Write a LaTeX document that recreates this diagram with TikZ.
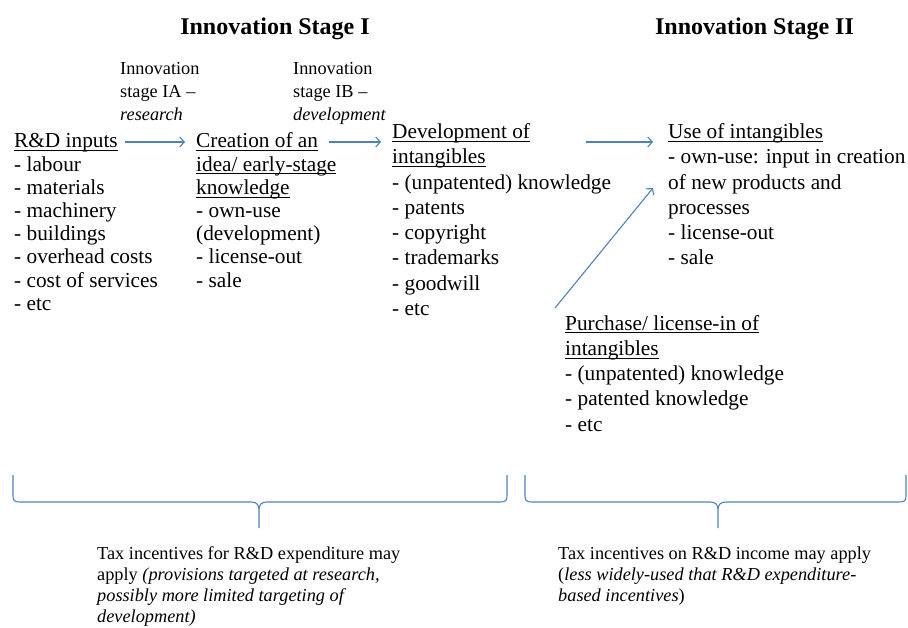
\documentclass[tikz,border=0pt]{standalone}
\usepackage{fontspec}
\setmainfont{Liberation Serif}
\newcommand{\myul}[1]{\leavevmode\setbox0=\hbox{#1}\rlap{\vrule height -2.2pt depth 3.1pt width \wd0}\box0}
\usetikzlibrary{arrows.meta}
\definecolor{arrowblue}{HTML}{4F81BD}
\tikzset{
  maintxt/.style={anchor=base west, inner sep=0pt, align=left, font=\fontsize{21.3}{23.2}\selectfont},
  maintxtb/.style={anchor=base west, inner sep=0pt, align=left, font=\fontsize{21.3}{25.3}\selectfont},
  smalltxt/.style={anchor=base west, inner sep=0pt, align=left, font=\fontsize{18.3}{22.7}\selectfont},
  bottxt/.style={anchor=base west, inner sep=0pt, align=left, font=\fontsize{18.3}{21.3}\selectfont},
  titletxt/.style={anchor=base, inner sep=0pt, font=\fontsize{24}{28}\selectfont\bfseries},
  flow/.style={draw=arrowblue, line width=1.1pt, -{Straight Barb[length=4.5pt,width=10pt]}},
  bracepath/.style={draw=arrowblue, line width=1.1pt}
}
\begin{document}
\begin{tikzpicture}[x=1pt,y=-1pt]
\useasboundingbox (0,0) rectangle (908,628);
% titles
\node[titletxt] (t1) at (275,35) {Innovation Stage I};
\node[titletxt] (t2) at (754.5,35) {Innovation Stage II};
% stage labels (anchored at last baseline)
\node[smalltxt] (ia) at (120,120.4) {Innovation\\stage IA --\\\textit{research}};
\node[smalltxt] (ib) at (293,120.4) {Innovation\\stage IB --\\\textit{development}};
% blocks (anchored at last baseline)
\node[maintxt] (rd) at (14,310.4) {\myul{R\&D inputs}\\- labour\\- materials\\- machinery\\- buildings\\- overhead costs\\- cost of services\\- etc};
\node[maintxt] (cr) at (196,287.2) {\myul{Creation of an}\\\myul{idea/ early-stage}\\\myul{knowledge}\\- own-use\\(development)\\- license-out\\- sale};
\node[maintxtb] (dv) at (392,315.6) {\myul{Development of}\\\myul{intangibles}\\- (unpatented) knowledge\\- patents\\- copyright\\- trademarks\\- goodwill\\- etc};
\node[maintxtb] (us) at (668,265) {\myul{Use of intangibles}\\- own-use: input in creation\\of new products and\\processes\\- license-out\\- sale};
\node[maintxtb] (pu) at (565,431.2) {\myul{Purchase/ license-in of}\\\myul{intangibles}\\- (unpatented) knowledge\\- patented knowledge\\- etc};
% arrows
\coordinate (a1s) at (125,142); \coordinate (a1e) at (185,142);
\coordinate (a2s) at (329,142); \coordinate (a2e) at (381,142);
\coordinate (a3s) at (586,142); \coordinate (a3e) at (653,142);
\coordinate (a4s) at (555,308); \coordinate (a4e) at (653,188);
\draw[flow] (a1s) -- (a1e);
\draw[flow] (a2s) -- (a2e);
\draw[flow] (a3s) -- (a3e);
\draw[flow] (a4s) -- (a4e);
% braces
\draw[bracepath] (13,475) -- (13,496) .. controls (13,501) and (15,502) .. (20,502) -- (251,502)
  .. controls (257,502) and (259,505) .. (259,510) -- (259,528) -- (259,510)
  .. controls (259,505) and (261,502) .. (267,502) -- (500,502)
  .. controls (505,502) and (507,501) .. (507,496) -- (507,475);
\draw[bracepath] (525,475) -- (525,496) .. controls (525,501) and (527,502) .. (532,502) -- (710,502)
  .. controls (716,502) and (718,505) .. (718,510) -- (718,528) -- (718,510)
  .. controls (718,505) and (720,502) .. (726,502) -- (899,502)
  .. controls (904,502) and (906,501) .. (906,496) -- (906,475);
% bottom texts (anchored at last baseline)
\node[bottxt] (b1) at (97,622.9) {Tax incentives for R\&D expenditure may\\apply \textit{(provisions targeted at research,}\\\textit{possibly more limited targeting of}\\\textit{development)}};
\node[bottxt] (b2) at (558,601.6) {Tax incentives on R\&D income may apply\\(\textit{less widely-used that R\&D expenditure-}\\\textit{based incentives})};
\end{tikzpicture}
\end{document}
